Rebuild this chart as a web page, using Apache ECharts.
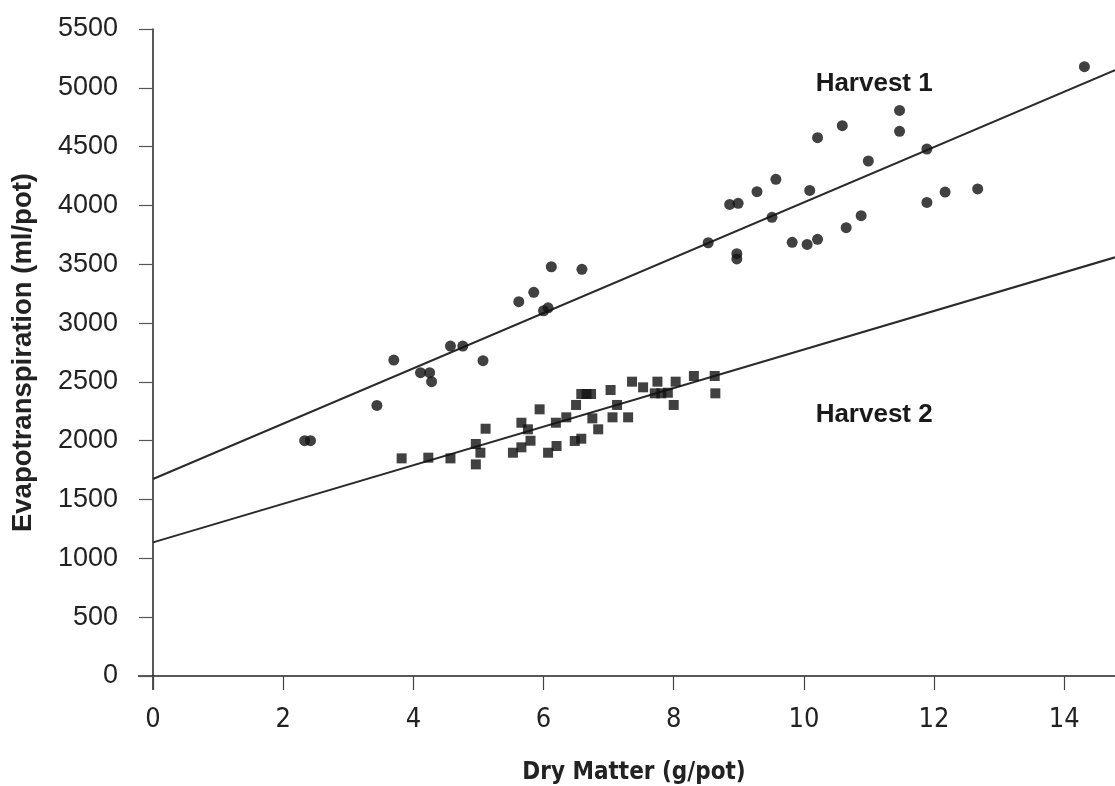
<!DOCTYPE html>
<html>
<head>
<meta charset="utf-8">
<script src="https://cdn.jsdelivr.net/npm/echarts@6/dist/echarts.min.js"></script>
<style>
html,body{margin:0;padding:0;background:#fff;}
#c{width:1115px;height:786px;}
</style>
</head>
<body>
<div id="c"></div>
<script>
// Harvest 1 (circles): [dry matter g/pot, evapotranspiration ml/pot]
const harvest1 = [
  [2.33,2000],[2.42,2000],[3.44,2300],[3.70,2686],[4.11,2578],[4.25,2578],[4.28,2502],
  [4.57,2805],[4.76,2805],[5.07,2680],[5.62,3182],[5.85,3262],[6.00,3105],[6.07,3130],
  [6.12,3479],[6.59,3457],[8.53,3683],[8.86,4009],[8.99,4018],[8.97,3590],[8.97,3545],
  [9.28,4117],[9.57,4222],[9.51,3899],[9.82,3687],[10.05,3669],[10.21,3712],[10.09,4128],
  [10.21,4576],[10.59,4678],[10.65,3811],[10.88,3913],[10.99,4378],[11.47,4808],[11.47,4630],
  [11.89,4480],[11.89,4026],[12.17,4114],[12.67,4140],[14.31,5180]
];
// Harvest 2 (squares)
const harvest2 = [
  [3.82,1850],[4.23,1856],[4.57,1850],[4.96,1972],[4.96,1799],[5.03,1898],[5.11,2102],
  [5.53,1898],[5.66,1944],[5.66,2153],[5.76,2097],[5.80,2000],[5.94,2267],[6.07,1898],
  [6.20,1955],[6.19,2153],[6.35,2199],[6.48,1998],[6.58,2017],[6.50,2304],[6.58,2397],
  [6.66,2397],[6.73,2397],[6.75,2190],[6.84,2097],[7.03,2431],[7.06,2199],[7.13,2304],
  [7.30,2199],[7.36,2502],[7.53,2454],[7.75,2502],[7.71,2403],[7.81,2403],[7.91,2408],
  [8.03,2502],[8.00,2304],[8.31,2550],[8.63,2550],[8.64,2403]
];
// Regression lines (endpoints)
const line1 = [[0,1675],[14.78,5151]];
const line2 = [[0,1136],[14.78,3559]];
const xTicks = [0,2,4,6,8,10,12,14];
const yTicks = [0,500,1000,1500,2000,2500,3000,3500,4000,4500,5000,5500];
const seriesLabels = [
  {name:'Harvest 1', value:[11.08,5032]},
  {name:'Harvest 2', value:[11.08,2218]}
];

const chart = echarts.init(document.getElementById('c'), null, {renderer:'canvas'});
const ink = '#111111';
const narrow = '"DejaVu Sans Condensed", "Liberation Sans Narrow", "Liberation Sans", sans-serif';
const arial = '"Liberation Sans", Arial, sans-serif';
chart.setOption({
  animation:false,
  backgroundColor:'#fff',
  grid:{left:153, right:0, top:29, bottom:110, containLabel:false, outerBoundsMode:'none'},
  xAxis:{
    type:'value', min:0, max:14.78, interval:2,
    name:'Dry Matter (g/pot)', nameLocation:'middle', nameGap:85,
    nameTextStyle:{fontFamily:narrow, fontWeight:'bold', fontSize:24, color:'#222'},
    axisLine:{show:true, onZero:false, lineStyle:{color:'#222', width:1.5}},
    axisTick:{show:true, inside:false, length:14, lineStyle:{color:'#444', width:1.2}},
    axisLabel:{margin:30, fontFamily:narrow, fontSize:27, color:'#222', showMaxLabel:false,
      formatter:(v)=> xTicks.indexOf(v) >= 0 ? String(v) : ''},
    splitLine:{show:false}
  },
  yAxis:{
    type:'value', min:0, max:5500, interval:500,
    name:'Evapotranspiration (ml/pot)', nameLocation:'middle', nameGap:116, nameRotate:90,
    nameTextStyle:{fontFamily:arial, fontWeight:'bold', fontSize:27.5, color:'#222'},
    axisLine:{show:true, onZero:false, lineStyle:{color:'#222', width:1.5}},
    axisTick:{show:true, inside:false, length:14, lineStyle:{color:'#555', width:1.2}},
    axisLabel:{margin:35, fontFamily:arial, fontSize:27, color:'#222',
      formatter:(v)=> yTicks.indexOf(v) >= 0 ? String(v) : ''},
    splitLine:{show:false}
  },
  series:[
    {type:'line', data:line1, symbol:'none', lineStyle:{color:'#2a2a2a', width:2}, z:2, silent:true},
    {type:'line', data:line2, symbol:'none', lineStyle:{color:'#2a2a2a', width:2}, z:2, silent:true},
    {type:'scatter', data:harvest1, symbol:'circle', symbolSize:11, itemStyle:{color:ink}, z:3},
    {type:'scatter', data:harvest2, symbol:'rect', symbolSize:10, itemStyle:{color:ink}, z:3},
    {type:'scatter', data:seriesLabels, symbolSize:1, itemStyle:{color:'#fff', opacity:0}, z:4, silent:true,
     label:{show:true, position:'inside', formatter:'{b}', color:'#1a1a1a', opacity:1,
       textBorderWidth:0, textBorderColor:'transparent',
       fontFamily:arial, fontWeight:'bold', fontSize:26}}
  ]
});
// small axis overshoots (y axis below 0, x axis left of 0) as in the reference
const o = chart.convertToPixel({gridIndex:0}, [0,0]);
chart.setOption({graphic:[
  {type:'line', shape:{x1:o[0], y1:o[1], x2:o[0], y2:o[1]+14}, style:{stroke:'#222', lineWidth:1.5}},
  {type:'line', shape:{x1:o[0]-15, y1:o[1], x2:o[0], y2:o[1]}, style:{stroke:'#222', lineWidth:1.5}}
]});
</script>
</body>
</html>
